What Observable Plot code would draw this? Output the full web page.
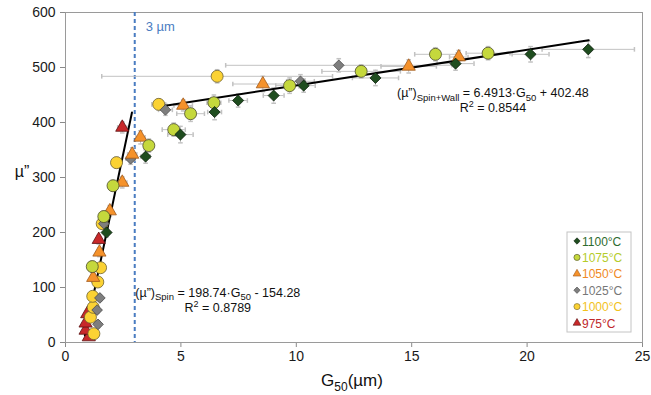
<!DOCTYPE html>
<html><head><meta charset="utf-8">
<script src="https://cdn.jsdelivr.net/npm/d3@7"></script>
<script src="https://cdn.jsdelivr.net/npm/@observablehq/plot@0.6"></script>
<style>body{margin:0;background:#fff;} svg{display:block}</style>
</head><body><div id="chart"></div>
<script>
// ---- data ----
const temps = ["1100°C", "1075°C", "1050°C", "1025°C", "1000°C", "975°C"];

const g1100 = [1.78, 3.47, 4.98, 6.46, 7.48, 9.02, 10.32, 13.43, 16.9, 20.15, 22.65];
const mu1100 = [200, 338, 378, 419, 440, 449, 467, 481, 507, 524, 533];
const gErr1100 = [0.1, 0.2, 0.55, 0.3, 0.4, 0.45, 0.5, 1.0, 0.8, 0.8, 2.0];
const muErr1100 = [8, 12, 15, 14, 12, 14, 12, 14, 12, 14, 15];

const g1075 = [1.16, 1.66, 2.06, 3.61, 4.69, 5.42, 6.43, 9.71, 12.81, 16.03, 18.31];
const mu1075 = [138, 229, 285, 358, 387, 416, 436, 467, 493, 524, 526];
const gErr1075 = [0.1, 0.1, 0.15, 0.2, 0.5, 0.6, 0.3, 0.6, 1.7, 0.9, 0.95];
const muErr1075 = [10, 10, 10, 12, 12, 14, 14, 14, 12, 12, 12];

const g1050 = [1.2, 1.47, 1.92, 2.46, 2.89, 3.25, 5.10, 8.55, 14.87, 17.04];
const mu1050 = [118, 164, 239, 291, 342, 373, 431, 470, 502, 519];
const gErr1050 = [0.1, 0.1, 0.1, 0.2, 0.2, 0.2, 0.4, 1.3, 1.2, 0.4];
const muErr1050 = [8, 8, 10, 10, 12, 12, 10, 14, 12, 12];

const g1025 = [1.41, 1.37, 1.49, 1.66, 2.82, 4.33, 10.18, 11.84];
const mu1025 = [33, 59, 81, 216, 334, 423, 475, 504];
const gErr1025 = [0.1, 0.1, 0.1, 0.1, 0.2, 0.3, 0.6, 4.9];
const muErr1025 = [6, 6, 6, 8, 10, 10, 12, 12];

const g1000 = [1.23, 1.08, 1.2, 1.18, 1.4, 1.52, 1.59, 2.21, 4.04, 6.57];
const mu1000 = [16, 46, 64, 84, 110, 136, 216, 327, 433, 484];
const gErr1000 = [0.1, 0.1, 0.1, 0.1, 0.1, 0.1, 0.1, 0.2, 0.3, 5.0];
const muErr1000 = [5, 6, 6, 8, 8, 8, 8, 10, 10, 12];

const g975 = [1.01, 0.87, 0.87, 0.94, 1.44, 2.46];
const mu975 = [10, 22, 35, 52, 187, 391];
const gErr975 = [0.05, 0.05, 0.05, 0.05, 0.1, 0.2];
const muErr975 = [4, 4, 5, 5, 8, 10];

// regression fits as printed on the chart
const fitSpin = {slope: 198.74, intercept: -154.28, r2: "0.8789", range: [0.84, 2.88]};
const fitWall = {slope: 6.4913, intercept: 402.48, r2: "0.8544", range: [4.04, 22.67]};
const criticalSize = 3; // µm

const xTicks = [0, 5, 10, 15, 20, 25];
const yTicks = [0, 100, 200, 300, 400, 500, 600];

// ---- styles ----
const seriesStyle = {
  "1100°C": {symbol: d3.symbolDiamond2, r: 5.0, fill: "#1f4d1f", stroke: "#0d1f0d", text: "#2e6b2e"},
  "1075°C": {symbol: d3.symbolCircle, r: 6.0, fill: "#c5d83c", stroke: "#4a4a2a", text: "#b5cc2a"},
  "1050°C": {symbol: d3.symbolTriangle, r: 4.9, fill: "#f5922b", stroke: "#a0581a", text: "#f08a24"},
  "1025°C": {symbol: d3.symbolDiamond2, r: 4.8, fill: "#7e7e7e", stroke: "#4a4a4a", text: "#777777"},
  "1000°C": {symbol: d3.symbolCircle, r: 6.0, fill: "#fbd233", stroke: "#6e6232", text: "#f2c21c"},
  "975°C": {symbol: d3.symbolTriangle, r: 4.9, fill: "#c8282a", stroke: "#5a1010", text: "#c0282b"}
};

const seriesData = {
  "1100°C": [g1100, mu1100, gErr1100, muErr1100],
  "1075°C": [g1075, mu1075, gErr1075, muErr1075],
  "1050°C": [g1050, mu1050, gErr1050, muErr1050],
  "1025°C": [g1025, mu1025, gErr1025, muErr1025],
  "1000°C": [g1000, mu1000, gErr1000, muErr1000],
  "975°C": [g975, mu975, gErr975, muErr975]
};

const rowsFor = t => {
  const [g, mu, ge, me] = seriesData[t];
  return g.map((v, i) => ({temp: t, g: v, mu: mu[i], ge: ge[i], me: me[i]}));
};
const drawOrder = temps.slice().reverse();
const allRows = drawOrder.flatMap(rowsFor);

const fitLine = f => f.range.map(x => ({x, y: f.slope * x + f.intercept}));

const capH = {draw(ctx, size) { const s = Math.sqrt(size) / 2; ctx.moveTo(-s, 0); ctx.lineTo(s, 0); }};
const capV = {draw(ctx, size) { const s = Math.sqrt(size) / 2; ctx.moveTo(0, -s); ctx.lineTo(0, s); }};
const errColor = "#c2c2c2";

const chart = Plot.plot({
  width: 651, height: 395,
  marginLeft: 65, marginRight: 9, marginTop: 12, marginBottom: 53,
  style: {fontFamily: "'Liberation Sans', Arial, sans-serif", fontSize: "14px", color: "#1a1a1a", background: "#fff", overflow: "visible"},
  x: {domain: [0, 25], ticks: xTicks, tickSize: 5, tickPadding: 4, label: null},
  y: {domain: [0, 600], ticks: yTicks, tickSize: 5, tickPadding: 5, label: null},
  marks: [
    Plot.frame({stroke: "#9a9a9a"}),
    Plot.ruleX([criticalSize], {stroke: "#4a7cc1", strokeWidth: 2, strokeDasharray: "4,3"}),
    // error bars
    Plot.ruleY(allRows, {y: "mu", x1: d => d.g - d.ge, x2: d => d.g + d.ge, stroke: errColor, strokeWidth: 1}),
    Plot.ruleX(allRows, {x: "g", y1: d => d.mu - d.me, y2: d => d.mu + d.me, stroke: errColor, strokeWidth: 1}),
    Plot.dot(allRows, {x: d => d.g - d.ge, y: "mu", symbol: capV, r: 2.6, stroke: errColor, fill: "none"}),
    Plot.dot(allRows, {x: d => d.g + d.ge, y: "mu", symbol: capV, r: 2.6, stroke: errColor, fill: "none"}),
    Plot.dot(allRows, {x: "g", y: d => d.mu - d.me, symbol: capH, r: 2.6, stroke: errColor, fill: "none"}),
    Plot.dot(allRows, {x: "g", y: d => d.mu + d.me, symbol: capH, r: 2.6, stroke: errColor, fill: "none"}),
    // fits
    Plot.line(fitLine(fitSpin), {x: "x", y: "y", stroke: "#000", strokeWidth: 2}),
    Plot.line(fitLine(fitWall), {x: "x", y: "y", stroke: "#000", strokeWidth: 2}),
    // points
    ...drawOrder.map(t => Plot.dot(rowsFor(t), {
      x: "g", y: "mu", symbol: seriesStyle[t].symbol, r: seriesStyle[t].r,
      fill: seriesStyle[t].fill, stroke: seriesStyle[t].stroke, strokeWidth: 0.8
    }))
  ]
});

document.getElementById("chart").appendChild(chart);

// ---- annotations via the plot's own scales ----
const svg = d3.select(chart);
const sx = chart.scale("x"), sy = chart.scale("y");
const fx = d3.scaleLinear(sx.domain, sx.range);
const fy = d3.scaleLinear(sy.domain, sy.range);
const font = "'Liberation Sans', Arial, sans-serif";

svg.selectAll('[aria-label="x-axis tick"], [aria-label="y-axis tick"]').attr("stroke", "#8a8a8a");

// 3 µm label
svg.append("text").attr("x", fx(3.5)).attr("y", fy(566)).attr("text-anchor", "start")
  .attr("font-family", font).attr("font-size", 13).attr("fill", "#4a7cc1").text("3 µm");

function equation(cx, yMain, ySecond, sub, eqText, constText, r2) {
  const t = svg.append("text").attr("x", fx(cx)).attr("y", fy(yMain))
    .attr("text-anchor", "middle").attr("font-family", font).attr("font-size", 12.5).attr("fill", "#111");
  t.append("tspan").text("(µ”)");
  t.append("tspan").attr("dy", 3.5).attr("font-size", 9.5).text(sub);
  t.append("tspan").attr("dy", -3.5).text(eqText);
  t.append("tspan").attr("dy", 3.5).attr("font-size", 9.5).text("50");
  t.append("tspan").attr("dy", -3.5).text(constText);
  const r = svg.append("text").attr("x", fx(cx)).attr("y", fy(ySecond))
    .attr("text-anchor", "middle").attr("font-family", font).attr("font-size", 12.5).attr("fill", "#111");
  r.append("tspan").text("R");
  r.append("tspan").attr("dy", -5).attr("font-size", 9).text("2");
  r.append("tspan").attr("dy", 5).text(" = " + r2);
}
equation(18.54, 445, 418, "Spin+Wall", " = " + fitWall.slope + "·G", " + " + fitWall.intercept.toFixed(2), fitWall.r2);
equation(6.62, 82, 54.5, "Spin", " = " + fitSpin.slope + "·G", " - " + Math.abs(fitSpin.intercept).toFixed(2), fitSpin.r2);

// axis titles
svg.append("text").attr("x", 22).attr("y", 177).attr("text-anchor", "middle")
  .attr("font-family", font).attr("font-size", 16).attr("fill", "#111").text("µ”");
const xt = svg.append("text").attr("x", 352).attr("y", 386).attr("text-anchor", "middle")
  .attr("font-family", font).attr("font-size", 17).attr("fill", "#111");
xt.append("tspan").text("G");
xt.append("tspan").attr("dy", 5).attr("font-size", 12).text("50");
xt.append("tspan").attr("dy", -5).text("(µm)");

// legend
const lg = svg.append("g");
lg.append("rect").attr("x", 567).attr("y", 232).attr("width", 64).attr("height", 100)
  .attr("fill", "#fff").attr("stroke", "#c4c4c4");
temps.forEach((t, i) => {
  const y = 241 + i * 16.4;
  const st = seriesStyle[t];
  lg.append("path").attr("d", d3.symbol().type(st.symbol).size(st.symbol === d3.symbolCircle ? 30 : 26)())
    .attr("transform", `translate(577,${y})`).attr("fill", st.fill).attr("stroke", st.stroke).attr("stroke-width", 0.6);
  lg.append("text").attr("x", 582).attr("y", y + 4.5).attr("text-anchor", "start")
    .attr("font-family", font).attr("font-size", 12).attr("fill", st.text).text(t);
});
</script>
</body></html>
